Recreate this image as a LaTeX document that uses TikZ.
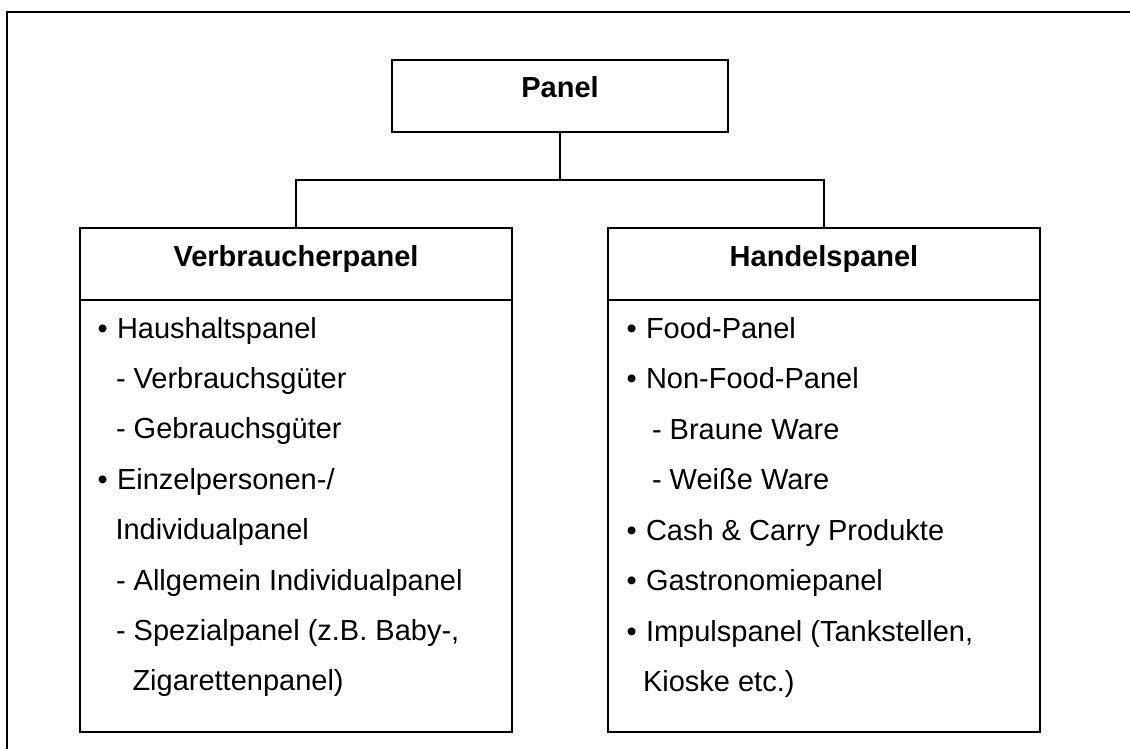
\documentclass[tikz,border=0pt]{standalone}
\usepackage{fontspec}
\setmainfont{Liberation Sans}
\begin{document}
\begin{tikzpicture}[x=1pt,y=-1pt,line width=2pt,
  boxnode/.style={draw,line width=2pt,inner sep=0pt,outer sep=0pt,anchor=north west},
  hdr/.style={anchor=base,inner sep=0pt,outer sep=0pt,font=\fontsize{29}{35}\selectfont\bfseries},
  itm/.style={anchor=base west,inner sep=0pt,outer sep=0pt,font=\fontsize{29}{35}\selectfont}]
\useasboundingbox (0,0) rectangle (1130,749);
% outer frame (only top and left sides visible)
\draw (1131,12) -- (7,12) -- (7,750);
% boxes
\node[boxnode,minimum width=336pt,minimum height=72pt] (panel) at (392,60) {};
\node[hdr] (paneltxt) at (560,98) {Panel};
\node[boxnode,minimum width=432pt,minimum height=504pt] (verb) at (80,228) {};
\node[boxnode,minimum width=432pt,minimum height=504pt] (handel) at (608,228) {};
\draw ([yshift=-72pt]verb.north west) -- ([yshift=-72pt]verb.north east);
\draw ([yshift=-72pt]handel.north west) -- ([yshift=-72pt]handel.north east);
\node[hdr] (verbh) at (296,266) {Verbraucherpanel};
\node[hdr] (handelh) at (824,266) {Handelspanel};
% connectors
\coordinate (jn) at (560,180);
\draw (panel.south) -- (jn);
\draw (verb.north) -- (verb.north |- jn) -- (handel.north |- jn) -- (handel.north);
% left list
\node[itm] (lb1) at (97.5,338) {•};
\node[itm] (l1) at (117,338) {Haushaltspanel};
\node[itm] (l2) at (116,388.4) {- Verbrauchsgüter};
\node[itm] (l3) at (116,438.8) {- Gebrauchsgüter};
\node[itm] (lb4) at (97.5,489.2) {•};
\node[itm] (l4) at (117,489.2) {Einzelpersonen-/};
\node[itm] (l5) at (115.5,539.6) {Individualpanel};
\node[itm] (l6) at (116,590) {- Allgemein Individualpanel};
\node[itm] (l7) at (116,640.4) {- Spezialpanel (z.B. Baby-,};
\node[itm] (l8) at (132.5,690.8) {Zigarettenpanel)};
% right list
\node[itm] (rb1) at (626.5,338) {•};
\node[itm] (r1) at (646,338) {Food-Panel};
\node[itm] (rb2) at (626.5,388.4) {•};
\node[itm] (r2) at (646,388.4) {Non-Food-Panel};
\node[itm] (r3) at (652,439.5) {- Braune Ware};
\node[itm] (r4) at (652,489.5) {- Weiße Ware};
\node[itm] (rb5) at (626.5,540) {•};
\node[itm] (r5) at (646,540) {Cash \& Carry Produkte};
\node[itm] (rb6) at (626.5,590.5) {•};
\node[itm] (r6) at (646,590.5) {Gastronomiepanel};
\node[itm] (rb7) at (626.5,641) {•};
\node[itm] (r7) at (646,641) {Impulspanel (Tankstellen,};
\node[itm] (r8) at (643,691) {Kioske etc.)};
\end{tikzpicture}
\end{document}
